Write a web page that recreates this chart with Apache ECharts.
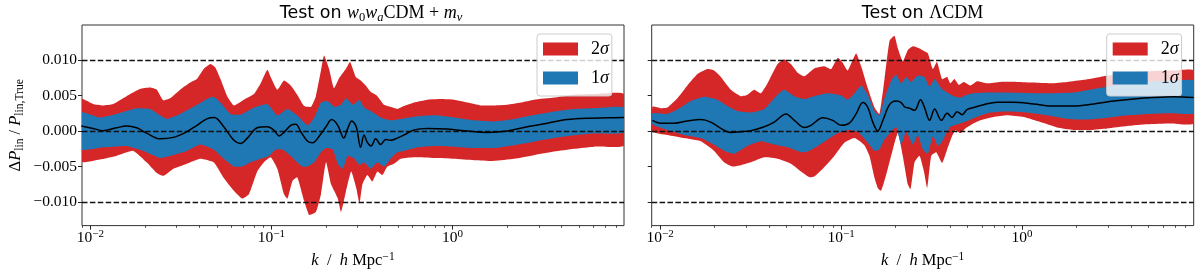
<!DOCTYPE html>
<html><head><meta charset="utf-8">
<script src="https://cdn.jsdelivr.net/npm/echarts@6/dist/echarts.min.js"></script>
<style>html,body{margin:0;padding:0;background:#fff}#c{width:1200px;height:274px}</style>
</head><body><div id="c"></div>
<script>
// ---------- data: [log10(k / h Mpc^-1), value x 1e-3] ----------
// Left panel: Test on w0waCDM + m_nu
const wU2 = [[-2.05,4.5],[-1.985,3.8],[-1.93,3.6],[-1.874,3.8],[-1.8,4.9],[-1.726,5.9],[-1.67,6.1],[-1.633,5.8],[-1.606,4.6],[-1.596,4.3],[-1.559,4.6],[-1.504,5.8],[-1.448,6.8],[-1.411,7.3],[-1.374,8.7],[-1.337,9.4],[-1.309,8.9],[-1.281,7.3],[-1.244,4.9],[-1.207,3.6],[-1.152,4.4],[-1.096,5.2],[-1.059,6.7],[-1.022,8.6],[-1.004,7.6],[-0.967,5.8],[-0.93,7.1],[-0.893,6.4],[-0.857,5.1],[-0.819,3.5],[-0.781,3.4],[-0.754,4.9],[-0.726,8.5],[-0.709,10.6],[-0.681,8.7],[-0.654,6.0],[-0.626,7.4],[-0.589,8.7],[-0.565,9.7],[-0.534,7.6],[-0.506,7.1],[-0.479,6.4],[-0.451,5.5],[-0.414,4.9],[-0.378,3.7],[-0.341,3.4],[-0.304,3.1],[-0.267,3.5],[-0.212,4.0],[-0.138,4.4],[-0.064,4.5],[0.009,4.4],[0.083,4.0],[0.157,3.6],[0.23,3.6],[0.304,3.7],[0.378,4.0],[0.451,4.4],[0.562,4.7],[0.672,5.1],[0.783,5.2],[0.948,5.2]];
const wU1 = [[-2.05,2.6],[-1.948,1.9],[-1.856,2.4],[-1.744,3.2],[-1.67,3.1],[-1.615,2.2],[-1.578,1.7],[-1.504,2.4],[-1.43,3.4],[-1.356,4.5],[-1.319,4.8],[-1.281,4.0],[-1.226,2.4],[-1.17,2.3],[-1.096,3.3],[-1.022,3.8],[-0.967,2.2],[-0.911,3.1],[-0.857,2.2],[-0.8,0.8],[-0.763,1.9],[-0.726,4.0],[-0.689,4.2],[-0.652,3.4],[-0.615,3.7],[-0.587,4.6],[-0.55,3.7],[-0.513,4.4],[-0.488,3.3],[-0.451,2.8],[-0.396,1.9],[-0.341,1.5],[-0.285,1.7],[-0.212,2.0],[-0.101,2.2],[0.009,1.9],[0.12,1.5],[0.23,1.35],[0.341,1.7],[0.451,2.25],[0.562,2.75],[0.672,3.1],[0.783,3.2],[0.948,3.3]];
const wMean = [[-2.05,0.7],[-1.985,0.36],[-1.93,0.05],[-1.856,0.45],[-1.8,0.7],[-1.744,0.45],[-1.689,-0.3],[-1.615,-1.1],[-1.541,-0.9],[-1.467,-0.1],[-1.411,0.8],[-1.356,1.7],[-1.315,1.9],[-1.263,0.6],[-1.207,-1.3],[-1.17,-1.75],[-1.133,-1.0],[-1.078,0.45],[-1.022,0.6],[-0.985,0.1],[-0.957,-0.7],[-0.93,-0.2],[-0.893,0.8],[-0.865,0.95],[-0.837,-0.1],[-0.8,-1.45],[-0.772,-1.65],[-0.735,-0.7],[-0.698,0.6],[-0.667,1.6],[-0.633,0.8],[-0.6,-1.0],[-0.578,0.36],[-0.556,1.4],[-0.531,0.6],[-0.507,-2.3],[-0.488,-0.55],[-0.47,-1.6],[-0.448,-2.1],[-0.424,-1.1],[-0.396,-1.9],[-0.368,-1.2],[-0.341,-1.3],[-0.304,-1.0],[-0.267,-0.55],[-0.212,0.15],[-0.138,0.36],[-0.028,0.27],[0.083,0.0],[0.193,-0.2],[0.304,0.0],[0.414,0.6],[0.525,1.1],[0.635,1.6],[0.746,1.8],[0.856,1.85],[0.948,1.9]];
const wL1 = [[-2.05,-2.6],[-1.93,-2.3],[-1.8,-2.1],[-1.707,-2.8],[-1.652,-3.4],[-1.615,-3.8],[-1.559,-3.5],[-1.467,-2.8],[-1.393,-1.9],[-1.319,-2.6],[-1.263,-3.9],[-1.207,-5.0],[-1.161,-5.0],[-1.115,-4.4],[-1.059,-3.9],[-1.013,-3.5],[-0.976,-2.6],[-0.939,-2.6],[-0.893,-3.5],[-0.857,-4.4],[-0.83,-5.0],[-0.8,-5.0],[-0.763,-4.4],[-0.726,-3.0],[-0.698,-2.4],[-0.661,-2.6],[-0.633,-4.6],[-0.606,-5.3],[-0.578,-3.5],[-0.541,-3.9],[-0.513,-4.8],[-0.488,-4.4],[-0.451,-5.3],[-0.414,-4.4],[-0.378,-5.0],[-0.341,-3.9],[-0.304,-3.0],[-0.267,-2.8],[-0.193,-2.3],[-0.101,-2.1],[0.009,-2.2],[0.12,-2.4],[0.23,-2.4],[0.341,-2.0],[0.451,-1.5],[0.562,-1.0],[0.672,-0.6],[0.783,-0.35],[0.948,-0.2]];
const wL2 = [[-2.05,-4.3],[-1.948,-4.0],[-1.856,-3.5],[-1.763,-2.8],[-1.689,-4.4],[-1.633,-5.9],[-1.596,-6.3],[-1.541,-5.3],[-1.467,-4.6],[-1.393,-3.9],[-1.319,-4.4],[-1.263,-6.6],[-1.207,-8.4],[-1.161,-9.5],[-1.124,-8.9],[-1.078,-5.7],[-1.041,-4.4],[-1.004,-3.7],[-0.967,-5.3],[-0.93,-8.9],[-0.911,-9.5],[-0.883,-7.0],[-0.857,-6.5],[-0.819,-9.8],[-0.791,-11.8],[-0.754,-11.4],[-0.726,-8.9],[-0.698,-4.4],[-0.67,-7.5],[-0.633,-9.5],[-0.615,-11.4],[-0.587,-8.4],[-0.559,-5.7],[-0.531,-8.0],[-0.513,-10.2],[-0.497,-7.5],[-0.47,-6.2],[-0.442,-7.1],[-0.414,-5.7],[-0.387,-6.2],[-0.359,-5.0],[-0.322,-4.6],[-0.285,-3.9],[-0.212,-3.7],[-0.101,-3.8],[0.009,-3.9],[0.12,-4.1],[0.23,-4.2],[0.341,-3.9],[0.451,-3.4],[0.562,-2.9],[0.672,-2.5],[0.783,-2.2],[0.948,-2.05]];

// Right panel: Test on LambdaCDM
const aU2 = [[-2.042,3.4],[-1.996,3.2],[-1.959,3.3],[-1.904,4.6],[-1.849,6.4],[-1.793,8.0],[-1.738,8.7],[-1.701,8.5],[-1.664,7.6],[-1.609,5.8],[-1.554,4.9],[-1.517,5.1],[-1.48,5.8],[-1.443,5.3],[-1.406,6.7],[-1.351,9.4],[-1.314,10.1],[-1.277,9.4],[-1.24,8.2],[-1.203,7.7],[-1.148,8.8],[-1.092,9.1],[-1.055,8.7],[-1.018,10.3],[-0.991,9.6],[-0.963,8.5],[-0.917,10.9],[-0.889,9.1],[-0.852,6.0],[-0.815,3.3],[-0.788,2.4],[-0.76,7.3],[-0.732,12.7],[-0.705,13.4],[-0.686,11.6],[-0.659,9.8],[-0.631,11.4],[-0.603,11.9],[-0.566,11.6],[-0.539,11.2],[-0.52,10.9],[-0.493,8.7],[-0.47,9.7],[-0.442,7.3],[-0.414,7.6],[-0.396,6.7],[-0.374,7.3],[-0.35,6.5],[-0.322,6.9],[-0.285,6.4],[-0.249,7.0],[-0.193,6.7],[-0.12,6.9],[-0.028,6.9],[0.064,6.8],[0.157,6.7],[0.249,6.9],[0.341,7.2],[0.433,7.6],[0.525,8.0],[0.617,8.3],[0.727,8.45],[0.838,8.5],[0.948,8.5]];
const aU1 = [[-2.042,2.5],[-1.959,2.4],[-1.886,3.3],[-1.83,4.2],[-1.756,4.8],[-1.683,4.4],[-1.627,3.5],[-1.572,2.8],[-1.498,2.6],[-1.424,3.1],[-1.351,5.1],[-1.314,5.8],[-1.258,4.9],[-1.203,4.5],[-1.148,4.9],[-1.074,5.3],[-1.0,5.0],[-0.963,4.4],[-0.926,5.3],[-0.889,6.4],[-0.852,5.1],[-0.815,2.8],[-0.788,2.2],[-0.76,4.6],[-0.723,7.1],[-0.696,7.9],[-0.668,6.7],[-0.64,7.6],[-0.613,6.9],[-0.576,7.8],[-0.539,7.6],[-0.511,6.2],[-0.483,7.3],[-0.446,6.0],[-0.414,5.4],[-0.378,4.9],[-0.341,4.7],[-0.304,5.1],[-0.267,5.3],[-0.193,5.4],[-0.083,5.4],[0.064,5.3],[0.175,5.3],[0.285,5.4],[0.396,5.9],[0.506,6.4],[0.617,6.8],[0.727,7.0],[0.838,7.1],[0.948,7.1]];
const aMean = [[-2.042,1.5],[-1.996,1.1],[-1.923,1.1],[-1.849,1.4],[-1.775,1.6],[-1.72,1.25],[-1.664,0.36],[-1.609,-0.2],[-1.554,-0.1],[-1.498,0.05],[-1.424,0.6],[-1.369,1.25],[-1.304,2.4],[-1.258,1.5],[-1.203,0.5],[-1.166,0.8],[-1.101,1.85],[-1.046,1.5],[-1.0,0.8],[-0.954,1.1],[-0.917,2.4],[-0.88,4.0],[-0.852,3.3],[-0.825,1.25],[-0.797,0.0],[-0.769,1.5],[-0.732,3.7],[-0.696,4.2],[-0.668,4.0],[-0.649,3.4],[-0.622,3.2],[-0.594,2.9],[-0.561,4.4],[-0.539,3.3],[-0.511,1.5],[-0.483,3.1],[-0.446,1.5],[-0.414,2.5],[-0.387,1.9],[-0.359,2.7],[-0.331,2.3],[-0.304,3.0],[-0.267,3.3],[-0.212,3.7],[-0.138,4.05],[-0.046,4.05],[0.064,3.8],[0.175,3.5],[0.285,3.5],[0.396,3.8],[0.506,4.2],[0.617,4.5],[0.727,4.7],[0.838,4.8],[0.948,4.7]];
const aL1 = [[-2.042,0.95],[-1.959,0.15],[-1.867,-0.55],[-1.775,-1.0],[-1.683,-2.2],[-1.627,-3.0],[-1.59,-3.2],[-1.517,-2.1],[-1.443,-1.45],[-1.369,-1.9],[-1.295,-2.3],[-1.221,-3.0],[-1.185,-2.9],[-1.129,-2.1],[-1.074,-1.2],[-1.018,-0.3],[-0.963,0.15],[-0.908,-0.1],[-0.852,-1.65],[-0.815,-2.8],[-0.788,-2.6],[-0.76,-1.2],[-0.723,-0.1],[-0.696,0.6],[-0.668,-1.9],[-0.64,-0.1],[-0.603,-1.9],[-0.576,-0.55],[-0.548,-2.6],[-0.52,-3.2],[-0.493,-0.75],[-0.465,-2.1],[-0.446,-1.65],[-0.396,0.6],[-0.35,1.0],[-0.304,1.4],[-0.249,2.0],[-0.175,2.6],[-0.083,2.75],[0.028,2.6],[0.138,2.2],[0.249,1.7],[0.359,1.6],[0.47,1.85],[0.58,2.2],[0.691,2.4],[0.82,2.5],[0.948,2.5]];
const aL2 = [[-2.042,-0.1],[-1.959,-0.55],[-1.867,-1.0],[-1.775,-1.45],[-1.701,-2.8],[-1.646,-4.4],[-1.6,-5.0],[-1.554,-4.8],[-1.498,-4.4],[-1.424,-3.7],[-1.351,-3.9],[-1.277,-4.6],[-1.221,-5.7],[-1.175,-6.5],[-1.148,-6.4],[-1.101,-5.3],[-1.037,-3.5],[-0.982,-1.65],[-0.926,-1.0],[-0.871,-2.0],[-0.843,-3.5],[-0.815,-6.6],[-0.797,-8.0],[-0.779,-8.4],[-0.751,-6.2],[-0.714,-2.6],[-0.686,-0.3],[-0.659,-3.5],[-0.631,-7.5],[-0.616,-8.2],[-0.594,-4.4],[-0.566,-3.5],[-0.542,-5.7],[-0.524,-8.0],[-0.502,-3.5],[-0.474,-3.0],[-0.442,-4.5],[-0.414,-2.6],[-0.387,-0.75],[-0.368,0.1],[-0.341,-0.3],[-0.313,0.36],[-0.276,0.95],[-0.23,1.5],[-0.157,1.95],[-0.083,2.2],[0.009,1.95],[0.101,1.25],[0.193,0.5],[0.285,0.15],[0.378,0.15],[0.47,0.36],[0.58,0.7],[0.691,0.95],[0.82,1.05],[0.948,1.05]];

// ticks / labels
const xMajorTicks = [-2, -1, 0];          // log10 k of 10^-2, 10^-1, 10^0
const xMinorMultipliers = [2,3,4,5,6,7,8,9];
const yTicks = [-0.010, -0.005, 0.000, 0.005, 0.010];
const refLines = [0.010, 0.000, -0.010];

// ---------- chart ----------
const XMIN = -2.046, XMAX = 0.948, YMIN = -0.0133, YMAX = 0.0149;
const SERIF = 'Liberation Serif', SANS = 'DejaVu Sans';
const RED = '#d62728', BLUE = '#1f77b4';
const xMinor = [];
[-3,-2,-1,0].forEach(d => xMinorMultipliers.forEach(m => { const v = d + Math.log10(m); if (v > XMIN && v < XMAX) xMinor.push(v); }));
const S = arr => arr.map(p => [p[0], p[1] / 1000]);

const mathRich = (fs) => ({
  r: {fontFamily: SERIF, fontSize: fs, color: '#000', lineHeight: 20},
  i: {fontFamily: SERIF, fontStyle: 'italic', fontSize: fs, color: '#000', lineHeight: 20},
  sb: {fontFamily: SERIF, fontSize: fs * 0.7, color: '#000', verticalAlign: 'bottom', lineHeight: 10},
  sp: {fontFamily: SERIF, fontSize: fs * 0.7, color: '#000', verticalAlign: 'top', lineHeight: 10}
});

function xAxes(gi) {
  return [{
    type: 'value', gridIndex: gi, min: XMIN, max: XMAX, position: 'bottom',
    axisLine: {show: false, onZero: false}, splitLine: {show: false},
    axisTick: {show: true, length: 4, customValues: xMajorTicks, lineStyle: {color: '#222', width: 1}},
    axisLabel: {
      show: true, customValues: xMajorTicks, margin: 3,
      formatter: v => '{b|10}{s|' + (Math.round(v) === 0 ? '0' : '\u2212' + Math.abs(Math.round(v))) + '}',
      rich: {
        b: {fontFamily: SERIF, fontSize: 15.5, color: '#000', lineHeight: 18},
        s: {fontFamily: SERIF, fontSize: 11, color: '#000', verticalAlign: 'top', lineHeight: 8}
      }
    },
    name: '{i|k}{r|  /  }{i|h}{r| Mpc}{sp|\u22121}', nameLocation: 'middle', nameGap: 24,
    nameTextStyle: {rich: mathRich(16.5)}
  }, {
    type: 'value', gridIndex: gi, min: XMIN, max: XMAX, position: 'bottom',
    axisLine: {show: false, onZero: false}, splitLine: {show: false}, axisLabel: {show: false},
    axisTick: {show: true, length: 2.2, customValues: xMinor, lineStyle: {color: '#222', width: 0.8}}
  }];
}
function yAxis(gi) {
  const ax = {
    type: 'value', gridIndex: gi, min: YMIN, max: YMAX, position: 'left',
    axisLine: {show: false, onZero: false}, splitLine: {show: false},
    axisTick: {show: true, length: 4, customValues: yTicks, lineStyle: {color: '#222'}},
    axisLabel: {
      show: gi === 0, customValues: yTicks, margin: 5,
      fontFamily: SERIF, fontSize: 15.5, color: '#000',
      formatter: v => (v < 0 ? '\u2212' : '') + Math.abs(v).toFixed(3)
    }
  };
  if (gi === 0) {
    ax.name = '{r|\u0394}{i|P}{sb|lin}{r| / }{i|P}{sb|lin,True}';
    ax.nameLocation = 'middle'; ax.nameRotate = 90; ax.nameGap = 56;
    ax.nameTextStyle = {rich: mathRich(16.5)};
  }
  return ax;
}
function band(name, color, upper, lower, gi) {
  const poly = upper.concat(lower.slice().reverse());
  return {
    type: 'custom', name, coordinateSystem: 'cartesian2d', xAxisIndex: gi * 2, yAxisIndex: gi,
    clip: true, silent: true, z: 2, itemStyle: {color},
    data: S(poly),
    renderItem: (params, api) => {
      if (params.dataIndex !== 0) return null;
      const pts = poly.map(p => api.coord([p[0], p[1] / 1000]));
      return {type: 'polygon', shape: {points: pts, smooth: 0.15}, style: {fill: color}};
    }
  };
}
function meanLine(data, gi) {
  return {
    type: 'line', name: 'mean', xAxisIndex: gi * 2, yAxisIndex: gi, data: S(data),
    symbol: 'none', smooth: 0.35, z: 4, silent: true,
    lineStyle: {color: '#000', width: 1.5},
    markLine: {
      symbol: 'none', silent: true, label: {show: false}, z: 3,
      lineStyle: {color: '#111', type: [5.5, 2.4], width: 1.4},
      data: refLines.map(v => ({yAxis: v}))
    }
  };
}
function legend(left) {
  return {
    orient: 'vertical', left, top: 34, itemWidth: 35, itemHeight: 13, itemGap: 11,
    padding: [6, 3, 9, 6], backgroundColor: 'rgba(255,255,255,0.8)',
    borderColor: '#cccccc', borderWidth: 1, borderRadius: 3, selectedMode: false,
    data: [
      {name: '2\u03c3', icon: 'rect', itemStyle: {color: RED, borderWidth: 0}},
      {name: '1\u03c3', icon: 'rect', itemStyle: {color: BLUE, borderWidth: 0}}
    ],
    formatter: n => '{n|' + n[0] + '}{g|\u03c3}',
    textStyle: {rich: {
      n: {fontFamily: SERIF, fontSize: 18, color: '#000', lineHeight: 13, padding: [0, 0, 0, 8]},
      g: {fontFamily: SERIF, fontStyle: 'italic', fontSize: 18, color: '#000', lineHeight: 13}
    }}
  };
}
const titleRich = {
  t: {fontFamily: SANS, fontSize: 17.5, fill: '#000', lineHeight: 22},
  r: {fontFamily: SERIF, fontSize: 18, fill: '#000', lineHeight: 22},
  i: {fontFamily: SERIF, fontStyle: 'italic', fontSize: 18, fill: '#000', lineHeight: 22},
  sb: {fontFamily: SERIF, fontStyle: 'italic', fontSize: 12.5, fill: '#000', verticalAlign: 'bottom', lineHeight: 11},
  sbr: {fontFamily: SERIF, fontSize: 12.5, fill: '#000', verticalAlign: 'bottom', lineHeight: 11}
};

const chart = echarts.init(document.getElementById('c'), null, {renderer: 'canvas'});
chart.setOption({
  animation: false,
  backgroundColor: '#fff',
  grid: [
    {left: 82, right: 576, top: 25, bottom: 41.3, show: true, borderColor: '#333', borderWidth: 1, backgroundColor: 'transparent'},
    {left: 651.7, right: 6.3, top: 25, bottom: 41.3, show: true, borderColor: '#333', borderWidth: 1, backgroundColor: 'transparent'}
  ],
  xAxis: xAxes(0).concat(xAxes(1)),
  yAxis: [yAxis(0), yAxis(1)],
  legend: [legend(537), legend(1106.7)],
  graphic: [
    {type: 'text', x: 371, y: 13, z: 10, style: {
      text: '{t|Test on }{i|w}{sbr|0}{i|w}{sb|a}{r|CDM + }{i|m}{sb|\u03bd}',
      rich: titleRich, align: 'center', verticalAlign: 'middle'}},
    {type: 'text', x: 922.5, y: 13, z: 10, style: {
      text: '{t|Test on }{r|\u039bCDM}',
      rich: titleRich, align: 'center', verticalAlign: 'middle'}}
  ],
  series: [
    band('2\u03c3', RED, wU2, wL2, 0),
    band('1\u03c3', BLUE, wU1, wL1, 0),
    meanLine(wMean, 0),
    band('2\u03c3', RED, aU2, aL2, 1),
    band('1\u03c3', BLUE, aU1, aL1, 1),
    meanLine(aMean, 1)
  ]
});
</script></body></html>
